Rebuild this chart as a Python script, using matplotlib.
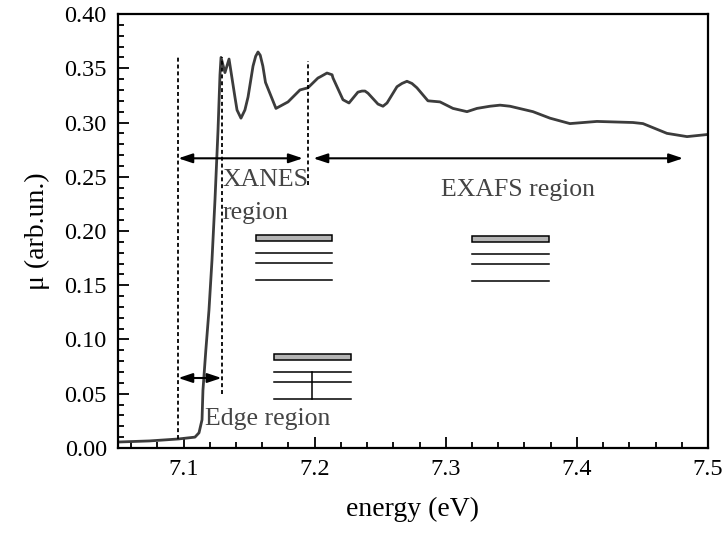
import matplotlib
matplotlib.use('Agg')
import matplotlib.pyplot as plt
from matplotlib.ticker import MultipleLocator
import numpy as np

plt.rcParams['font.family'] = 'serif'
plt.rcParams['font.serif'] = ['Liberation Serif', 'DejaVu Serif']

# 吸收谱数据
energy = np.array([7.050, 7.074, 7.096, 7.1087, 7.1118, 7.1141, 7.1148, 7.117, 7.1194,
                   7.1217, 7.124, 7.1263, 7.1278, 7.1286, 7.1316, 7.1347, 7.1392,
                   7.1408, 7.1438, 7.1468, 7.1492, 7.153, 7.155, 7.1568, 7.1585,
                   7.1605, 7.1625,
                   7.1705, 7.1736, 7.1797, 7.1888, 7.1949,
                   7.2025, 7.2041, 7.2094, 7.2133, 7.214, 7.2216, 7.2262, 7.233,
                   7.2361, 7.2384, 7.2407, 7.2483, 7.2521, 7.2552,
                   7.2628, 7.2666, 7.2704, 7.2742, 7.278, 7.2864, 7.2956, 7.3055,
                   7.3162, 7.3238, 7.3337, 7.3414, 7.349, 7.3665, 7.3795, 7.3947,
                   7.4153, 7.4428, 7.4504, 7.4687, 7.484, 7.500])
mu = np.array([0.0055, 0.0065, 0.0083, 0.010, 0.014, 0.026, 0.053, 0.090, 0.127,
               0.173, 0.229, 0.293, 0.344, 0.360, 0.346, 0.3585, 0.3235,
               0.3115, 0.304, 0.3115, 0.3235, 0.352, 0.361, 0.365, 0.362,
               0.352, 0.337,
               0.313, 0.315, 0.319, 0.330, 0.332,
               0.341, 0.342, 0.3456, 0.344, 0.341, 0.321, 0.318, 0.328,
               0.329, 0.329, 0.327, 0.317, 0.315, 0.318,
               0.333, 0.336, 0.338, 0.336, 0.332, 0.320, 0.319, 0.313,
               0.310, 0.313, 0.315, 0.316, 0.315, 0.310, 0.304, 0.299,
               0.301, 0.300, 0.299, 0.290, 0.287, 0.289])

# 虚线位置 (x, y下, y上)
vlines = [(7.096, 0.008, 0.360), (7.129, 0.0495, 0.360), (7.195, 0.242, 0.357)]
# 双箭头 (x起, x止, y)
arrows = [(7.096, 7.191, 0.267), (7.199, 7.481, 0.267), (7.096, 7.129, 0.0645)]
# 能级图 (x左, x右, 矩形y下, 矩形y上, 能级线)
levels = [(7.155, 7.213, 0.1905, 0.1965, [0.1795, 0.1705, 0.1545]),
          (7.320, 7.379, 0.1895, 0.1955, [0.1785, 0.1700, 0.1535]),
          (7.169, 7.228, 0.0810, 0.0866, [0.0700, 0.0610, 0.0450])]
trans_x = 7.198
trans_y = (0.045, 0.070)

fig = plt.figure(figsize=(7.22, 5.33), dpi=100)
ax = fig.add_axes([0.1634, 0.1595, 0.8172, 0.8142])

ax.plot(energy, mu, color='#3c3c3c', lw=2, solid_joinstyle='round')

for x, y0, y1 in vlines:
    ax.plot([x, x], [y0, y1], color='black', lw=1.3, ls=(0, (2.2, 1.6)))

for x0, x1, y in arrows:
    ax.annotate('', xy=(x1, y), xytext=(x0, y),
                arrowprops=dict(arrowstyle='<|-|>,head_length=0.6,head_width=0.2',
                                color='black', lw=1.5,
                                mutation_scale=14, shrinkA=0, shrinkB=0))

for x0, x1, r0, r1, ls in levels:
    ax.add_patch(plt.Rectangle((x0, r0), x1 - x0, r1 - r0, facecolor='#b4b4b4',
                               edgecolor='black', lw=1.1))
    for y in ls:
        ax.plot([x0, x1], [y, y], color='black', lw=1.1)
ax.plot([trans_x, trans_x], trans_y, color='black', lw=1.1)

tc = '#444444'
ax.text(7.130, 0.247, 'XANES', fontsize=18.5, color=tc, va='center', ha='left')
ax.text(7.130, 0.217, 'region', fontsize=18.5, color=tc, va='center', ha='left')
ax.text(7.355, 0.238, 'EXAFS region', fontsize=18.5, color=tc, va='center', ha='center')
ax.text(7.1165, 0.027, 'Edge region', fontsize=18.5, color=tc, va='center', ha='left')

ax.set_xlim(7.05, 7.5)
ax.set_ylim(0, 0.40)
ax.xaxis.set_major_locator(MultipleLocator(0.1))
ax.xaxis.set_minor_locator(MultipleLocator(0.02))
ax.yaxis.set_major_locator(MultipleLocator(0.05))
ax.yaxis.set_minor_locator(MultipleLocator(0.01))
ax.xaxis.set_major_formatter(plt.FuncFormatter(lambda v, p: '%.1f' % v))
ax.yaxis.set_major_formatter(plt.FuncFormatter(lambda v, p: '%.2f' % v))
ax.tick_params(which='both', direction='in', top=False, right=False, width=1.3,
               labelsize=17.5, pad=8)
ax.tick_params(which='major', length=8)
ax.tick_params(which='minor', length=4.5)
for t in ax.get_xticklabels() + ax.get_yticklabels():
    t.set_fontfamily('Liberation Serif')
for s in ax.spines.values():
    s.set_linewidth(1.6)

ax.set_xlabel('energy (eV)', fontsize=20, labelpad=12)
ax.set_ylabel('μ (arb.un.)', fontsize=20, labelpad=10)

fig.savefig('out.png', dpi=100)
